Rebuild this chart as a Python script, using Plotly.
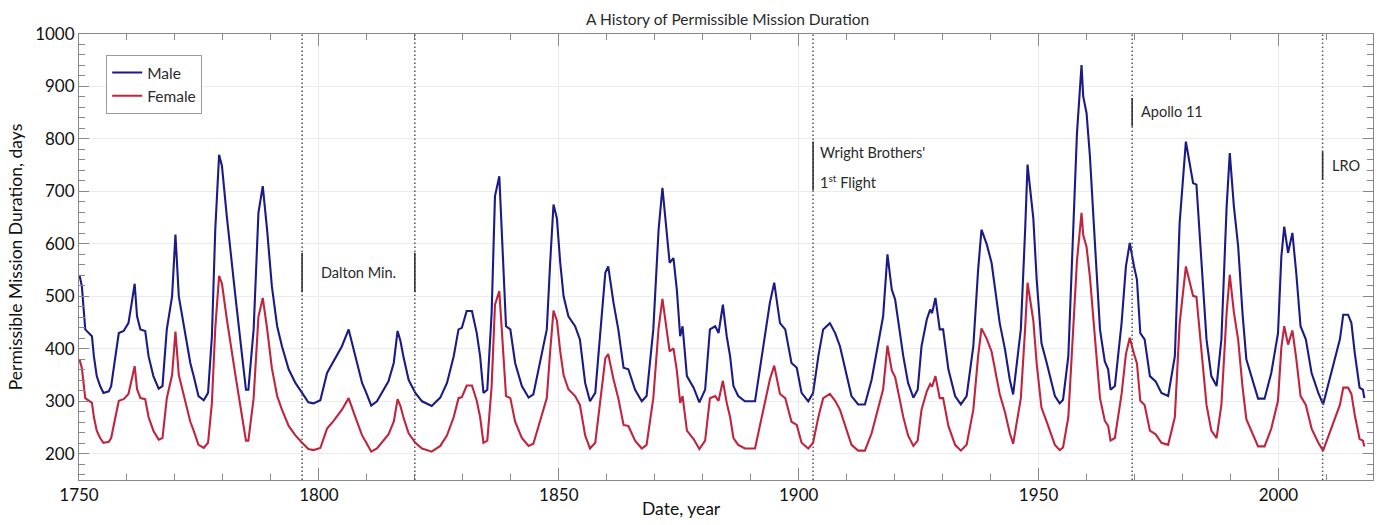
import plotly.graph_objects as go

years = [
    1750.1, 1750.6, 1751.3, 1752.0, 1752.7, 1753.1, 1753.7, 1754.4, 1755.1, 1756.2,
    1756.7, 1757.6, 1758.3, 1759.3, 1760.3, 1761.0, 1761.6, 1762.1, 1762.8, 1763.8,
    1764.5, 1765.5, 1766.6, 1767.4, 1768.3, 1769.4, 1770.1, 1770.8, 1771.5, 1772.1,
    1773.2, 1773.9, 1774.9, 1776.0, 1776.9, 1777.7, 1778.4, 1779.2, 1779.8, 1780.8,
    1781.9, 1782.6, 1784.0, 1784.8, 1785.3, 1786.4, 1787.4, 1788.3, 1789.2, 1790.2,
    1791.3, 1792.3, 1793.7, 1795.1, 1796.5, 1797.8, 1798.9, 1800.3, 1801.7, 1803.1,
    1804.8, 1806.2, 1807.6, 1809.0, 1810.0, 1810.9, 1812.1, 1813.1, 1814.5, 1815.6,
    1816.4, 1817.0, 1817.6, 1818.7, 1820.1, 1821.5, 1823.5, 1825.3, 1826.7, 1828.1,
    1829.1, 1829.8, 1830.8, 1831.9, 1832.9, 1833.6, 1834.3, 1835.1, 1836.0, 1836.7,
    1837.6, 1838.1, 1839.0, 1839.9, 1840.9, 1842.3, 1843.7, 1844.7, 1846.1, 1847.5,
    1848.2, 1848.9, 1849.6, 1850.3, 1851.0, 1852.0, 1853.4, 1854.4, 1855.5, 1856.5,
    1857.6, 1858.6, 1859.7, 1860.3, 1861.4, 1862.4, 1863.5, 1864.5, 1865.9, 1867.3,
    1868.3, 1869.7, 1870.8, 1871.6, 1872.5, 1873.1, 1873.9, 1874.6, 1875.3, 1875.8,
    1876.7, 1878.1, 1879.3, 1880.5, 1881.5, 1882.6, 1883.3, 1884.2, 1885.0, 1885.7,
    1886.4, 1887.4, 1888.8, 1890.9, 1891.9, 1893.0, 1894.0, 1894.9, 1896.1, 1897.2,
    1898.5, 1899.6, 1900.6, 1902.0, 1903.0, 1904.1, 1905.1, 1906.5, 1907.6, 1908.6,
    1909.7, 1911.0, 1912.4, 1913.8, 1915.2, 1916.6, 1917.6, 1918.5, 1919.4, 1920.1,
    1920.8, 1921.8, 1922.8, 1923.9, 1924.8, 1925.6, 1926.7, 1927.4, 1927.8, 1928.5,
    1929.4, 1930.1, 1931.2, 1932.6, 1933.8, 1935.0, 1936.4, 1937.4, 1938.1, 1939.2,
    1940.2, 1941.2, 1941.9, 1943.0, 1944.0, 1944.7, 1945.4, 1946.3, 1947.2, 1947.7,
    1948.4, 1948.9, 1949.6, 1950.6, 1951.7, 1952.5, 1953.4, 1954.4, 1955.1, 1956.2,
    1957.2, 1958.0, 1958.95, 1959.3, 1960.0, 1960.7, 1961.7, 1962.8, 1963.1, 1963.8,
    1964.5, 1965.0, 1965.9, 1967.3, 1968.2, 1969.0, 1969.9, 1970.5, 1971.2, 1972.1,
    1973.2, 1974.4, 1975.6, 1977.0, 1978.4, 1979.4, 1980.7, 1981.5, 1982.2, 1982.9,
    1984.0, 1985.0, 1986.0, 1987.1, 1988.1, 1989.2, 1989.85, 1990.7, 1991.6, 1992.5,
    1993.3, 1994.4, 1995.75, 1997.1, 1998.5, 1999.9, 2000.6, 2001.2, 2002.0, 2002.9,
    2003.7, 2004.6, 2005.7, 2006.9, 2008.3, 2009.3, 2010.3, 2011.7, 2012.8, 2013.5,
    2014.5, 2015.2, 2015.9, 2016.9, 2017.6, 2017.9,
]

male_days = [
    541, 519, 437, 430, 424, 386, 348, 329, 316, 319,
    329, 386, 430, 434, 449, 488, 524, 462, 437, 434,
    386, 348, 324, 329, 437, 500, 618, 500, 462, 430,
    373, 348, 310, 302, 316, 424, 627, 770, 748, 653,
    551, 500, 386, 322, 322, 437, 659, 710, 627, 519,
    443, 405, 361, 335, 316, 298, 296, 302, 354, 376,
    405, 437, 386, 335, 313, 292, 300, 316, 338, 373,
    434, 415, 386, 341, 316, 300, 291, 307, 335, 386,
    437, 440, 472, 472, 430, 386, 316, 322, 468, 691,
    729, 627, 443, 437, 373, 329, 307, 313, 373, 437,
    564, 675, 649, 564, 500, 462, 443, 418, 335, 300,
    316, 424, 545, 557, 488, 437, 364, 361, 322, 300,
    310, 437, 627, 707, 627, 564, 573, 513, 424, 443,
    348, 326, 298, 322, 437, 443, 430, 484, 424, 386,
    329, 310, 300, 300, 361, 430, 488, 526, 449, 437,
    373, 364, 316, 300, 316, 386, 437, 449, 430, 405,
    361, 310, 294, 294, 341, 411, 462, 580, 513, 494,
    449, 386, 335, 307, 322, 405, 456, 475, 468, 497,
    437, 437, 361, 310, 294, 310, 405, 551, 627, 599,
    564, 500, 449, 399, 341, 313, 373, 437, 627, 751,
    691, 649, 532, 411, 373, 345, 310, 296, 303, 386,
    608, 811, 941, 881, 849, 767, 608, 437, 418, 376,
    361, 322, 329, 449, 557, 602, 557, 532, 430, 418,
    348, 338, 316, 310, 386, 640, 795, 748, 716, 713,
    564, 418, 348, 329, 418, 672, 773, 672, 595, 468,
    380, 348, 305, 305, 354, 430, 576, 633, 583, 621,
    545, 443, 418, 354, 316, 294, 329, 380, 418, 465,
    465, 449, 392, 326, 322, 306,
]

female_days = [
    380, 363, 306, 301, 297, 270, 244, 230, 221, 223,
    230, 270, 301, 304, 314, 342, 367, 323, 306, 304,
    270, 244, 227, 230, 306, 350, 433, 350, 323, 301,
    261, 244, 217, 211, 221, 297, 439, 539, 524, 457,
    386, 350, 270, 225, 225, 306, 461, 497, 439, 363,
    310, 284, 253, 235, 221, 209, 207, 211, 248, 263,
    284, 306, 270, 235, 219, 204, 210, 221, 237, 261,
    304, 291, 270, 239, 221, 210, 204, 215, 235, 270,
    306, 308, 330, 330, 301, 270, 221, 225, 328, 484,
    510, 439, 310, 306, 261, 230, 215, 219, 261, 306,
    395, 473, 454, 395, 350, 323, 310, 293, 235, 210,
    221, 297, 382, 390, 342, 306, 255, 253, 225, 210,
    217, 306, 439, 495, 439, 395, 401, 359, 297, 310,
    244, 228, 209, 225, 306, 310, 301, 339, 297, 270,
    230, 217, 210, 210, 253, 301, 342, 368, 314, 306,
    261, 255, 221, 210, 221, 270, 306, 314, 301, 284,
    253, 217, 206, 206, 239, 288, 323, 406, 359, 346,
    314, 270, 235, 215, 225, 284, 319, 333, 328, 348,
    306, 306, 253, 217, 206, 217, 284, 386, 439, 419,
    395, 350, 314, 279, 239, 219, 261, 306, 439, 526,
    484, 454, 372, 288, 261, 242, 217, 207, 212, 270,
    426, 568, 659, 617, 594, 537, 426, 306, 293, 263,
    253, 225, 230, 314, 390, 421, 390, 372, 301, 293,
    244, 237, 221, 217, 270, 448, 557, 524, 501, 499,
    395, 293, 244, 230, 293, 470, 541, 470, 417, 328,
    266, 244, 214, 214, 248, 301, 403, 443, 408, 435,
    382, 310, 293, 248, 221, 206, 230, 266, 293, 326,
    326, 314, 274, 228, 225, 214,
]

event_years = [1796.5, 1820.0, 1903.0, 1969.5, 2009.2]
# solid label markers drawn over the dotted event lines
marker_x = [1796.5, 1820.0, 1903.0, 1969.5, 2009.2]
marker_y0 = [508, 508, 702, 824, 722]
marker_y1 = [583, 583, 795, 878, 776]

label_texts = ["Dalton Min.", "Wright Brothers'", "1<sup>st</sup> Flight", "Apollo 11", "LRO"]
label_x = [1808.3, 1904.1, 1904.1, 1971.0, 2010.7]
label_y = [546, 774, 718, 852, 749]
label_anchor = ["center", "left", "left", "left", "left"]

FONT = "Lato, 'Open Sans', sans-serif"
TXT = "#2a2a2a"

fig = go.Figure()
fig.add_trace(go.Scatter(x=years, y=male_days, mode="lines", name="Male",
                         line=dict(color="#1b1b88", width=2.1)))
fig.add_trace(go.Scatter(x=years, y=female_days, mode="lines", name="Female",
                         line=dict(color="#c0253f", width=2.1)))

shapes = []
for ex in event_years:
    shapes.append(dict(type="line", xref="x", yref="paper", x0=ex, x1=ex, y0=0, y1=1,
                       line=dict(color="#555555", width=1.5, dash="1.5px,2.5px"), layer="above"))
for mx, a, b in zip(marker_x, marker_y0, marker_y1):
    shapes.append(dict(type="line", xref="x", yref="y", x0=mx, x1=mx, y0=a, y1=b,
                       line=dict(color="#333333", width=1.6), layer="above"))

annotations = []
for t, lx, ly, anc in zip(label_texts, label_x, label_y, label_anchor):
    annotations.append(dict(x=lx, y=ly, xref="x", yref="y", text=t, showarrow=False,
                            xanchor=anc, yanchor="middle", align="left",
                            font=dict(family=FONT, size=14.5, color=TXT)))
annotations.append(dict(x=0.4656, y=-0.093, xref="paper", yref="paper", text="Date, year",
                        showarrow=False, xanchor="center", yanchor="bottom",
                        font=dict(family=FONT, size=17.5, color="#111111")))

fig.update_layout(
    width=1386, height=525,
    margin=dict(l=79, r=13, t=34, b=45),
    paper_bgcolor="white", plot_bgcolor="white",
    font=dict(family=FONT, color="#111111"),
    title=dict(text="A History of Permissible Mission Duration", x=0.525, xanchor="center",
               y=0.962, yanchor="middle", font=dict(family=FONT, size=15.5, color=TXT)),
    showlegend=True,
    legend=dict(x=0.021, y=0.953, xanchor="left", yanchor="top",
                bgcolor="white", bordercolor="#9a9a9a", borderwidth=1,
                font=dict(family=FONT, size=15.5, color=TXT),
                tracegroupgap=0, itemwidth=30),
    shapes=shapes, annotations=annotations,
)

fig.update_xaxes(
    range=[1750, 2019.7], tick0=1750, dtick=50, ticks="inside", ticklen=12, tickwidth=1,
    tickcolor="#888888", showline=True, linecolor="#888888", linewidth=1, mirror="allticks",
    showgrid=True, gridcolor="#ececec", gridwidth=1, zeroline=False,
    tickfont=dict(family=FONT, size=17, color="#111111"),
    minor=dict(dtick=10, ticks="inside", ticklen=6, tickcolor="#888888", showgrid=False),
)
fig.update_yaxes(
    range=[150, 1000], tick0=0, dtick=100, ticks="inside", ticklen=10, tickwidth=1,
    tickcolor="#888888", showline=True, linecolor="#888888", linewidth=1, mirror="allticks",
    showgrid=True, gridcolor="#ececec", gridwidth=1, zeroline=False,
    tickfont=dict(family=FONT, size=17, color="#111111"),
    title=dict(text="Permissible Mission Duration, days", standoff=8,
               font=dict(family=FONT, size=17.5, color="#111111")),
    minor=dict(dtick=20, ticks="inside", ticklen=6, tickcolor="#888888", showgrid=False),
)

fig.write_html("out.html")
